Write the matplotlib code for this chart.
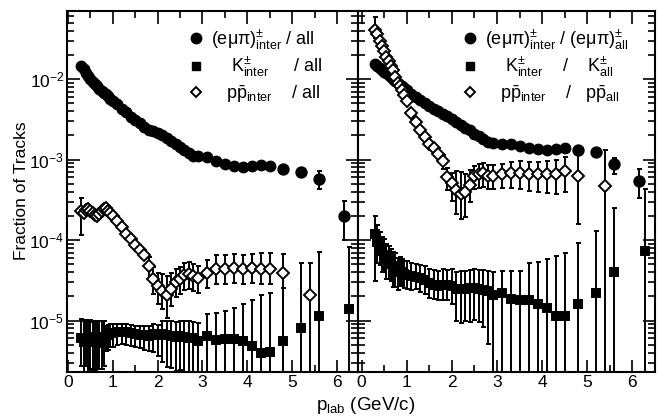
import numpy as np
import matplotlib
matplotlib.use('Agg')
import matplotlib.pyplot as plt
from matplotlib.ticker import MultipleLocator, LogLocator, NullFormatter
from matplotlib.lines import Line2D

plt.rcParams['font.family'] = ['Liberation Sans', 'DejaVu Sans']
plt.rcParams['mathtext.fontset'] = 'custom'
plt.rcParams['mathtext.rm'] = 'Liberation Sans'
plt.rcParams['mathtext.it'] = 'Liberation Sans'
plt.rcParams['mathtext.bf'] = 'Liberation Sans:bold'

# momentum bins (GeV/c), dense part shared by all series
p = [0.30, 0.35, 0.40, 0.45, 0.50, 0.55, 0.60, 0.65, 0.70, 0.75, 0.80,
     0.85, 0.90, 0.95, 1.00, 1.10, 1.20, 1.30, 1.40, 1.50, 1.60, 1.70,
     1.80, 1.90, 2.00, 2.10, 2.20, 2.30, 2.40, 2.50, 2.60, 2.70, 2.80,
     2.90, 3.10, 3.30, 3.50, 3.70, 3.90, 4.10, 4.30, 4.50]
pTailLep = [4.8, 5.2, 5.6, 6.15]
pTailK = [4.8, 5.2, 5.6, 6.28]
pTailP = [4.8, 5.4]

# ---- left panel: fraction of all tracks
lepL = [1.45e-2, 1.32e-2, 1.18e-2, 1.09e-2, 1.0e-2, 9.3e-3, 8.6e-3, 8.1e-3, 7.6e-3, 7.1e-3, 6.8e-3,
        6.5e-3, 6.1e-3, 5.7e-3, 5.3e-3, 4.85e-3, 4.3e-3, 3.85e-3, 3.4e-3, 3.1e-3, 2.85e-3, 2.55e-3,
        2.35e-3, 2.25e-3, 2.12e-3, 2.0e-3, 1.87e-3, 1.72e-3, 1.58e-3, 1.45e-3, 1.33e-3, 1.22e-3, 1.12e-3,
        1.1e-3, 1.07e-3, 9.5e-4, 8.8e-4, 8.3e-4, 8.2e-4, 8.4e-4, 8.6e-4, 8.4e-4]
lepTailL = [7.6e-4, 7.1e-4, 5.7e-4, 2.0e-4]
lepTailL_lo = [0.05, 0.08, 0.25, 0.5]
lepTailL_hi = [0.05, 0.08, 0.26, 0.55]

kL = [6.0e-6, 5.5e-6, 6.0e-6, 5.5e-6, 6.2e-6, 5.4e-6, 5.8e-6, 5.2e-6, 5.6e-6, 6.2e-6, 6.0e-6,
      6.4e-6, 6.7e-6, 7.0e-6, 7.1e-6, 7.2e-6, 7.3e-6, 7.2e-6, 7.0e-6, 6.9e-6, 6.7e-6, 6.6e-6,
      6.5e-6, 6.8e-6, 6.6e-6, 6.9e-6, 6.6e-6, 6.4e-6, 6.2e-6, 6.4e-6, 6.3e-6, 6.1e-6, 6.0e-6,
      5.6e-6, 6.4e-6, 5.8e-6, 5.9e-6, 5.9e-6, 5.6e-6, 4.9e-6, 4.0e-6, 4.1e-6]
kL_hi = [0.75, 0.8, 0.7, 0.8, 0.65, 0.8, 0.7, 0.85, 0.75, 0.6, 0.65,
         0.35, 0.3, 0.3, 0.28, 0.25, 0.25, 0.25, 0.25, 0.25, 0.28, 0.3,
         0.3, 0.32, 0.35, 0.45, 0.5, 0.55, 0.55, 0.55, 0.55, 0.6, 0.6,
         0.65, 0.9, 1.15, 1.2, 1.45, 1.85, 2.7, 4.2, 4.4]
kL_lo = [0.55, 0.6, 0.55, 0.62, 0.6, 0.55, 0.6, 0.62, 0.55, 0.6, 0.55,
         0.35, 0.35, 0.33, 0.33, 0.3, 0.3, 0.3, 0.3, 0.32, 0.32, 0.35,
         0.35, 0.4, 0.45, 0.55, 0.6, 0.6, 0.62, 0.62, 0.999, 0.999, 0.999,
         0.999, 0.999, 0.999, 0.999, 0.999, 0.999, 0.999, 0.999, 0.999]
kTailL = [5.6e-6, 8.2e-6, 1.15e-5, 1.4e-5]
kTailL_hi = [3.5, 5.3, 5.1, 4.8]
kTailL_lo = [0.999, 0.999, 0.999, 0.999]

ppL = [2.3e-4, 2.2e-4, 2.35e-4, 2.4e-4, 2.3e-4, 2.2e-4, 2.05e-4, 2.0e-4, 2.1e-4, 2.3e-4, 2.45e-4,
       2.5e-4, 2.3e-4, 2.15e-4, 2.0e-4, 1.75e-4, 1.45e-4, 1.2e-4, 1.02e-4, 8.8e-5, 7.6e-5, 6.5e-5,
       4.7e-5, 3.3e-5, 2.7e-5, 2.3e-5, 2.1e-5, 2.5e-5, 3.0e-5, 3.3e-5, 3.7e-5, 3.8e-5, 3.6e-5,
       3.4e-5, 3.9e-5, 4.4e-5, 4.4e-5, 4.5e-5, 4.4e-5, 4.5e-5, 4.4e-5, 4.4e-5]
ppL_hi = [0.45, 0.08, 0.08, 0.08, 0.08, 0.08, 0.08, 0.08, 0.08, 0.08, 0.08,
          0.08, 0.08, 0.08, 0.08, 0.08, 0.08, 0.08, 0.08, 0.08, 0.08, 0.1,
          0.3, 0.4, 0.45, 0.65, 0.7, 0.55, 0.45, 0.4, 0.4, 0.4, 0.4,
          0.4, 0.45, 0.5, 0.5, 0.5, 0.5, 0.5, 0.55, 0.55]
ppL_lo = [0.5, 0.08, 0.08, 0.08, 0.08, 0.08, 0.08, 0.08, 0.08, 0.08, 0.08,
          0.08, 0.08, 0.08, 0.08, 0.08, 0.08, 0.08, 0.08, 0.08, 0.08, 0.1,
          0.3, 0.35, 0.4, 0.4, 0.48, 0.4, 0.35, 0.35, 0.35, 0.35, 0.35,
          0.35, 0.35, 0.35, 0.35, 0.35, 0.35, 0.35, 0.35, 0.35]
ppTailL = [3.9e-5, 2.1e-5]
ppTailL_hi = [0.7, 1.5]
ppTailL_lo = [0.999, 0.999]

# ---- right panel: fraction of the same species
lepR = [1.55e-2, 1.45e-2, 1.38e-2, 1.3e-2, 1.24e-2, 1.18e-2, 1.12e-2, 1.07e-2, 1.0e-2, 9.5e-3, 9.0e-3,
        8.5e-3, 8.1e-3, 7.7e-3, 7.4e-3, 6.6e-3, 5.9e-3, 5.5e-3, 5.0e-3, 4.6e-3, 4.3e-3, 4.0e-3,
        3.7e-3, 3.45e-3, 3.2e-3, 2.9e-3, 2.7e-3, 2.5e-3, 2.3e-3, 2.1e-3, 1.95e-3, 1.8e-3, 1.65e-3,
        1.6e-3, 1.58e-3, 1.55e-3, 1.48e-3, 1.4e-3, 1.35e-3, 1.3e-3, 1.35e-3, 1.4e-3]
lepTailR = [1.3e-3, 1.23e-3, 8.7e-4, 5.4e-4]
lepTailR_lo = [0.05, 0.08, 0.24, 0.39]
lepTailR_hi = [0.05, 0.08, 0.2, 0.4]

kR = [1.18e-4, 9.5e-5, 8.1e-5, 7.3e-5, 6.6e-5, 6.0e-5, 5.5e-5, 5.1e-5, 4.8e-5, 4.4e-5, 4.0e-5,
      4.1e-5, 4.0e-5, 3.8e-5, 3.7e-5, 3.6e-5, 3.5e-5, 3.4e-5, 3.2e-5, 2.9e-5, 2.8e-5, 2.7e-5,
      2.8e-5, 2.75e-5, 2.7e-5, 2.45e-5, 2.45e-5, 2.5e-5, 2.55e-5, 2.55e-5, 2.5e-5, 2.4e-5, 2.3e-5,
      2.1e-5, 2.2e-5, 1.86e-5, 1.8e-5, 1.8e-5, 1.6e-5, 1.45e-5, 1.15e-5, 1.15e-5]
kR_hi = [0.7, 0.6, 0.55, 0.5, 0.55, 0.5, 0.55, 0.5, 0.5, 0.55, 0.5,
         0.5, 0.45, 0.45, 0.5, 0.45, 0.45, 0.45, 0.5, 0.5, 0.5, 0.55,
         0.55, 0.55, 0.6, 0.65, 0.7, 0.65, 0.65, 0.7, 0.7, 0.75, 0.8,
         0.9, 0.9, 1.2, 1.3, 1.9, 2.3, 3.0, 4.5, 5.0]
kR_lo = [0.74, 0.45, 0.4, 0.45, 0.4, 0.45, 0.4, 0.4, 0.45, 0.4, 0.4,
         0.35, 0.33, 0.33, 0.33, 0.33, 0.3, 0.33, 0.33, 0.35, 0.33, 0.33,
         0.35, 0.35, 0.4, 0.6, 0.62, 0.6, 0.62, 0.6, 0.62, 0.65, 0.78,
         0.999, 0.999, 0.999, 0.999, 0.999, 0.999, 0.999, 0.999, 0.999]
kTailR = [1.6e-5, 2.2e-5, 4.0e-5, 7.4e-5]
kTailR_hi = [4.7, 4.9, 5.2, 4.9]
kTailR_lo = [0.999, 0.999, 0.999, 0.999]

ppR = [4.1e-2, 3.6e-2, 3.0e-2, 2.6e-2, 2.2e-2, 1.9e-2, 1.67e-2, 1.45e-2, 1.3e-2, 1.05e-2, 9.0e-3,
       8.2e-3, 7.3e-3, 6.4e-3, 5.4e-3, 3.8e-3, 2.9e-3, 2.3e-3, 1.9e-3, 1.55e-3, 1.38e-3, 1.17e-3,
       9.5e-4, 6.0e-4, 5.1e-4, 4.2e-4, 3.7e-4, 3.9e-4, 4.9e-4, 6.2e-4, 6.6e-4, 6.8e-4, 6.3e-4,
       6.3e-4, 6.6e-4, 6.9e-4, 6.9e-4, 6.6e-4, 6.6e-4, 6.6e-4, 6.6e-4, 7.2e-4]
ppR_hi = [0.45, 0.06, 0.06, 0.06, 0.06, 0.06, 0.06, 0.06, 0.06, 0.06, 0.06,
          0.06, 0.06, 0.06, 0.06, 0.06, 0.06, 0.06, 0.06, 0.06, 0.06, 0.1,
          0.2, 0.3, 0.35, 0.7, 0.9, 0.7, 0.5, 0.35, 0.35, 0.35, 0.35,
          0.35, 0.35, 0.35, 0.38, 0.4, 0.42, 0.45, 0.48, 0.5]
ppR_lo = [0.2, 0.06, 0.06, 0.06, 0.06, 0.06, 0.06, 0.06, 0.06, 0.06, 0.06,
          0.06, 0.06, 0.06, 0.06, 0.06, 0.06, 0.06, 0.06, 0.06, 0.06, 0.1,
          0.2, 0.3, 0.4, 0.5, 0.5, 0.5, 0.4, 0.3, 0.32, 0.32, 0.32,
          0.32, 0.33, 0.35, 0.37, 0.38, 0.4, 0.42, 0.44, 0.45]
ppTailR = [6.3e-4, 4.7e-4]
ppTailR_hi = [1.2, 1.8]
ppTailR_lo = [0.75, 0.999]

LW = 1.4
MS_D = 6.2


def drawPoints(ax, x, y, relLo, relHi, marker, ms, filled):
	y = np.array(y)
	yerr = [y * np.array(relLo), y * np.array(relHi)]
	ax.errorbar(x, y, yerr=yerr, fmt=marker, ms=ms, color='k',
				mfc='k' if filled else 'w', mec='k', mew=LW,
				elinewidth=LW, capsize=1.8, capthick=LW)


def styleAxes(ax, showYlabels):
	ax.set_yscale('log')
	ax.set_ylim(2.3e-6, 7e-2)
	ax.xaxis.set_major_locator(MultipleLocator(1))
	ax.xaxis.set_minor_locator(MultipleLocator(0.5))
	ax.yaxis.set_major_locator(LogLocator(base=10))
	ax.yaxis.set_minor_locator(LogLocator(base=10, subs=np.arange(2, 10)))
	ax.yaxis.set_minor_formatter(NullFormatter())
	ax.tick_params(which='both', direction='in', top=True, right=True, width=1.2,
				   labelsize=12.5, pad=2)
	ax.tick_params(which='major', length=9)
	ax.tick_params(which='minor', length=5)
	if not showYlabels:
		ax.tick_params(labelleft=False)
	for s in ax.spines.values():
		s.set_linewidth(1.5)


fig = plt.figure(figsize=(6.58, 4.2), dpi=100)
W, H = 658.0, 420.0
axL = fig.add_axes([67 / W, 1 - 372 / H, (358 - 67) / W, (372 - 11) / H])
axR = fig.add_axes([358 / W, 1 - 372 / H, (655 - 358) / W, (372 - 11) / H])

# left panel
axL.plot(p, lepL, 'o', color='k', ms=7.5)
drawPoints(axL, pTailLep, lepTailL, lepTailL_lo, lepTailL_hi, 'o', 7.5, True)
drawPoints(axL, p, kL, kL_lo, kL_hi, 's', 6, True)
drawPoints(axL, pTailK, kTailL, kTailL_lo, kTailL_hi, 's', 6, True)
drawPoints(axL, p, ppL, ppL_lo, ppL_hi, 'D', MS_D, False)
drawPoints(axL, pTailP, ppTailL, ppTailL_lo, ppTailL_hi, 'D', MS_D, False)
axL.set_xlim(-0.02, 6.47)
styleAxes(axL, True)

# right panel
axR.plot(p, lepR, 'o', color='k', ms=7.5)
drawPoints(axR, pTailLep, lepTailR, lepTailR_lo, lepTailR_hi, 'o', 7.5, True)
drawPoints(axR, p, kR, kR_lo, kR_hi, 's', 6, True)
drawPoints(axR, pTailK, kTailR, kTailR_lo, kTailR_hi, 's', 6, True)
drawPoints(axR, p, ppR, ppR_lo, ppR_hi, 'D', MS_D, False)
drawPoints(axR, pTailP, ppTailR, ppTailR_lo, ppTailR_hi, 'D', MS_D, False)
axR.set_xlim(-0.08, 6.5)
styleAxes(axR, False)

# legends
keys = [Line2D([], [], ls='none', marker='o', color='k', ms=7.5),
		Line2D([], [], ls='none', marker='s', color='k', ms=6),
		Line2D([], [], ls='none', marker='D', mfc='w', mec='k', mew=LW, ms=MS_D - 0.7)]
labelsL = [u'(e\u03bc\u03c0)$^{\\pm}_{\\rm inter}$ / all',
		   u'    K$^{\\pm}_{\\rm inter}$     / all',
		   u'   p$\\bar{\\rm p}_{\\rm inter}$    / all']
labelsR = [u'(e\u03bc\u03c0)$^{\\pm}_{\\rm inter}$ / (e\u03bc\u03c0)$^{\\pm}_{\\rm all}$',
		   u'    K$^{\\pm}_{\\rm inter}$    /    K$^{\\pm}_{\\rm all}$',
		   u'   p$\\bar{\\rm p}_{\\rm inter}$    /   p$\\bar{\\rm p}_{\\rm all}$']
for ax, labels, xRight in ((axL, labelsL, 0.9), (axR, labelsR, 0.935)):
	ax.legend(keys, labels, loc='upper right', bbox_to_anchor=(xRight, 0.975), frameon=False,
			  fontsize=13, handlelength=0.8, handletextpad=0.4, labelspacing=0.2,
			  borderaxespad=0.0)

fig.text(22 / W, 1 - 191 / H, 'Fraction of Tracks', rotation=90, ha='center', va='center', fontsize=12.5)
fig.text(366 / W, 1 - 405 / H, 'p$_{\\rm lab}$ (GeV/c)', ha='center', va='center', fontsize=13.5)

fig.savefig('out.png', dpi=100)
